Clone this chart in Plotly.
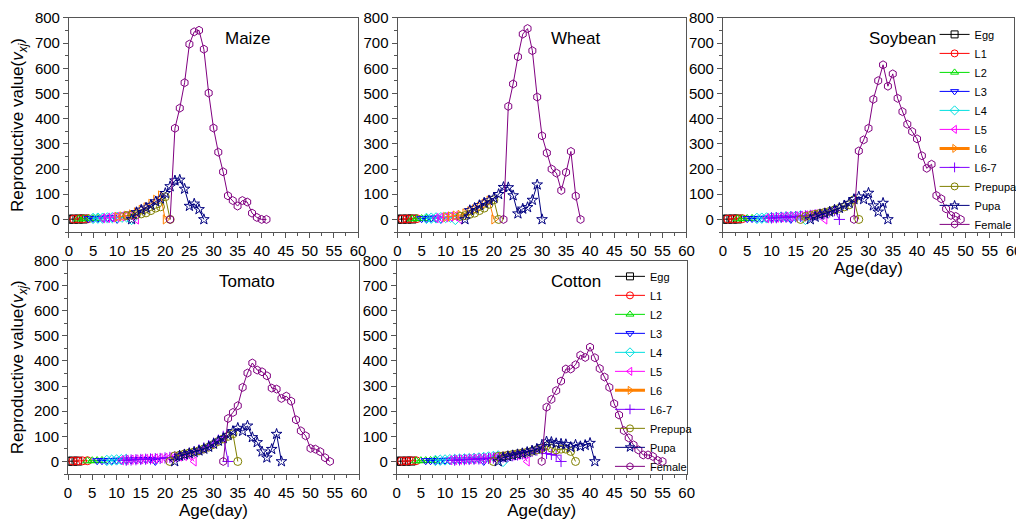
import plotly.graph_objects as go

# stage order / styling (Origin default colours)
stages = ["Egg", "L1", "L2", "L3", "L4", "L5", "L6", "L6-7", "Prepupa", "Pupa", "Female"]
colors = ["#000000", "#FF0000", "#00E000", "#0000FF", "#00E0E0", "#FF00FF",
          "#FF8000", "#8000FF", "#808000", "#000080", "#800080"]
symbols = ["square-open", "circle-open", "triangle-up-open", "triangle-down-open",
           "diamond-open", "triangle-left-open", "triangle-right-open", "cross-thin-open",
           "circle-open", "star-open", "hexagon-open"]

# first age (day) of each stage series, per crop (None = stage absent)
maize_start = [0, 1, 2, 4, 5, 7, 10, None, 12, 13, 21]
wheat_start = [0, 1, 3, 5, 6, 8, 10, None, 13, 14, 22]
soybean_start = [0, 1, 3, 5, 7, 9, None, 10, 16, 18, 27]
tomato_start = [0, 1, 4, 6, 8, 11, None, 12, 21, 22, 32]
cotton_start = [0, 1, 4, 6, 8, 11, None, 12, 20, 21, 30]

# reproductive values v_xj
maize_egg = [1, 1.2, 1.4, 1.6]
maize_l1 = [1.5, 2, 2.5, 3]
maize_l2 = [2, 2.5, 3, 3.5, 4]
maize_l3 = [3, 4, 4, 5, 6, 7, 0]
maize_l4 = [4, 5, 5, 6, 7, 8, 9, 10, 0]
maize_l5 = [5, 6, 8, 10, 12, 14, 16, 0]
maize_l6 = [10, 12, 15, 20, 28, 38, 48, 62, 78, 95, 0]
maize_l67 = []
maize_prepupa = [15, 17, 19, 22, 26, 35, 45, 50, 90, 0]
maize_pupa = [0, 28, 38, 46, 57, 71, 82, 104, 131, 154, 157, 121, 53, 62, 40, 0]
maize_female = [0, 362, 442, 543, 696, 745, 751, 676, 502, 363, 267, 189, 94, 75,
                53, 75, 69, 25, 8, 0, 0]

wheat_egg = [1, 1.2, 1.4, 1.6]
wheat_l1 = [1.5, 2, 2.5, 3]
wheat_l2 = [2.5, 3, 3.5, 4]
wheat_l3 = [3, 4, 5, 6, 0]
wheat_l4 = [4, 5, 6, 7, 8, 9, 0]
wheat_l5 = [5, 7, 9, 11, 13, 0]
wheat_l6 = [10, 12, 15, 18, 24, 32, 40, 50, 62, 75, 0]
wheat_l67 = []
wheat_prepupa = [12, 15, 20, 25, 35, 45, 60, 78, 0]
wheat_pupa = [0, 36, 45, 56, 66, 75, 85, 100, 128, 127, 95, 23, 42, 48, 77, 138, 0]
wheat_female = [0, 449, 538, 646, 736, 758, 670, 486, 332, 264, 200, 184, 115, 187,
                270, 93, 0]

soybean_egg = [1, 1.2, 1.4, 1.6]
soybean_l1 = [1.5, 2, 2.5, 3]
soybean_l2 = [2.5, 3, 3.5, 4]
soybean_l3 = [3, 3.5, 4, 4.5, 5, 5.5, 6, 6.5, 7, 0]
soybean_l4 = [4, 5, 6, 7, 8, 9, 10, 11, 12, 14, 0]
soybean_l5 = [5, 6, 7, 8, 10, 11, 12, 14, 16, 18, 20, 22, 0]
soybean_l6 = []
soybean_l67 = [6, 7, 8, 9, 10, 11, 12, 14, 16, 18, 21, 25, 30, 35, 0]
soybean_prepupa = [0, 12, 16, 20, 24, 28, 32, 38, 44, 50, 58, 78, 0]
soybean_pupa = [0, 10, 18, 23, 30, 38, 45, 55, 65, 80, 90, 80, 105, 55, 30, 65, 0]
soybean_female = [0, 272, 316, 362, 477, 551, 614, 529, 578, 481, 428, 378, 349, 320,
                  253, 203, 219, 95, 82, 42, 16, 12, 0]

tomato_egg = [1, 1.2, 1.4]
tomato_l1 = [1.5, 2, 2.5, 3]
tomato_l2 = [2.5, 3, 3.5, 4]
tomato_l3 = [3, 3, 4, 4, 5, 5, 6, 6, 7, 7, 8, 8, 0]
tomato_l4 = [4, 5, 6, 7, 8]
tomato_l5 = [5, 6, 7, 8, 9, 10, 11, 12, 13, 14, 16, 18, 20, 22, 25, 0]
tomato_l6 = []
tomato_l67 = [5, 6, 7, 8, 9, 10, 11, 12, 14, 16, 19, 23, 28, 33, 39, 46, 54, 63, 73,
              85, 100, 0]
tomato_prepupa = [0, 22, 25, 30, 34, 38, 43, 50, 57, 68, 80, 90, 100, 110, 0]
tomato_pupa = [0, 22, 27, 32, 37, 43, 50, 58, 70, 82, 92, 105, 120, 133, 121, 142, 96,
               76, 39, 15, 49, 109, 0]
tomato_female = [0, 171, 195, 222, 295, 352, 392, 364, 357, 341, 292, 288, 251, 260,
                 240, 166, 122, 102, 52, 49, 39, 15, 0]

cotton_egg = [1, 1.2, 1.4, 1.6]
cotton_l1 = [1.5, 2, 2.5, 3]
cotton_l2 = [2.5, 3, 3.5, 4, 4.5]
cotton_l3 = [3, 3, 4, 4, 5, 5, 6, 6, 7, 7, 8, 9, 0]
cotton_l4 = [4, 5, 6, 7, 8, 9, 10, 11, 12, 14, 16, 18, 20, 22, 0]
cotton_l5 = [5, 6, 7, 8, 9, 10, 11, 12, 14, 16, 18, 20, 22, 24, 27, 30, 0]
cotton_l6 = []
cotton_l67 = [5, 6, 7, 8, 9, 10, 11, 12, 14, 16, 18, 20, 23, 26, 30, 35, 40, 45, 50,
              32, 28, 25, 0]
cotton_prepupa = [0, 20, 22, 25, 28, 31, 34, 37, 41, 46, 52, 62, 53, 46, 49, 49, 40, 0]
cotton_pupa = [0, 15, 20, 24, 28, 32, 37, 43, 50, 60, 79, 77, 72, 70, 68, 57, 66, 60,
               65, 73, 0]
cotton_female = [0, 216, 247, 282, 320, 368, 368, 385, 423, 414, 455, 413, 370, 336,
                 295, 230, 185, 123, 94, 66, 46, 26, 26, 20, 4, 0]

crops = ["Maize", "Wheat", "Soybean", "Tomato", "Cotton"]
starts = [maize_start, wheat_start, soybean_start, tomato_start, cotton_start]
series = [
    [maize_egg, maize_l1, maize_l2, maize_l3, maize_l4, maize_l5, maize_l6, maize_l67,
     maize_prepupa, maize_pupa, maize_female],
    [wheat_egg, wheat_l1, wheat_l2, wheat_l3, wheat_l4, wheat_l5, wheat_l6, wheat_l67,
     wheat_prepupa, wheat_pupa, wheat_female],
    [soybean_egg, soybean_l1, soybean_l2, soybean_l3, soybean_l4, soybean_l5, soybean_l6,
     soybean_l67, soybean_prepupa, soybean_pupa, soybean_female],
    [tomato_egg, tomato_l1, tomato_l2, tomato_l3, tomato_l4, tomato_l5, tomato_l6,
     tomato_l67, tomato_prepupa, tomato_pupa, tomato_female],
    [cotton_egg, cotton_l1, cotton_l2, cotton_l3, cotton_l4, cotton_l5, cotton_l6,
     cotton_l67, cotton_prepupa, cotton_pupa, cotton_female],
]

font = "Arial, Liberation Sans, sans-serif"
fig = go.Figure()

for p, crop in enumerate(crops):
    ax = "" if p == 0 else str(p + 1)
    for j, stage in enumerate(stages):
        vals = series[p][j]
        if not vals:
            continue
        ages = list(range(starts[p][j], starts[p][j] + len(vals)))
        fig.add_trace(go.Scatter(
            x=ages, y=vals, mode="lines+markers", showlegend=False,
            line=dict(color=colors[j], width=1),
            marker=dict(symbol=symbols[j], size=8, color=colors[j],
                        line=dict(width=1, color=colors[j])),
            xaxis="x" + ax, yaxis="y" + ax, name=stage,
        ))

# legend-only entries (Soybean panel legend and Cotton panel legend)
for leg, ax in [("legend", "3"), ("legend2", "5")]:
    for j, stage in enumerate(stages):
        fig.add_trace(go.Scatter(
            x=[None], y=[None], mode="lines+markers", name=stage, legend=leg,
            line=dict(color=colors[j], width=3 if stage == "L6" else 1),
            marker=dict(symbol=symbols[j], size=7, color=colors[j],
                        line=dict(width=1, color=colors[j])),
            xaxis="x" + ax, yaxis="y" + ax,
        ))

# the page body adds an 8px margin, so the figure is 1016x517
x_domains = [[0.0600, 0.3445], [0.3834, 0.6678], [0.7037, 0.9902],
             [0.0591, 0.3455], [0.3826, 0.6680]]
y_domains = [[0.5667, 0.9807], [0.5667, 0.9807], [0.5667, 0.9807],
             [0.0986, 0.5116], [0.0986, 0.5116]]
ytitle = "Reproductive value(<i>v</i><sub><i>xj</i></sub>)"

layout = dict(
    template="none",
    width=1016, height=517, margin=dict(l=0, r=0, t=0, b=0, pad=0),
    paper_bgcolor="white", plot_bgcolor="white",
    font=dict(family=font, size=15, color="black"),
    showlegend=True,
)
axis_common = dict(showgrid=False, zeroline=False, showline=True, mirror=True,
                   automargin=False,
                   linecolor="#555555", linewidth=1, ticks="outside", ticklen=5,
                   tickcolor="#555555", tickfont=dict(size=15, family=font, color="black"))
for p, crop in enumerate(crops):
    ax = "" if p == 0 else str(p + 1)
    xa = dict(axis_common, domain=x_domains[p], anchor="y" + ax, range=[0, 60],
              dtick=5, tick0=0,
              minor=dict(ticks="outside", dtick=2.5, ticklen=3, tickcolor="#555555"))
    ya = dict(axis_common, domain=y_domains[p], anchor="x" + ax, range=[-50, 800],
              dtick=100, tick0=0,
              minor=dict(ticks="outside", dtick=50, ticklen=3, tickcolor="#555555"))
    if p in (2, 3, 4):
        xa["title"] = dict(text="Age(day)", font=dict(size=17, color="black"), standoff=4)
    if p in (0, 3):
        ya["title"] = dict(text=ytitle, font=dict(size=17, color="black"), standoff=6)
    layout["xaxis" + ax] = xa
    layout["yaxis" + ax] = ya

layout["legend"] = dict(x=0.912, y=0.977, xanchor="left", yanchor="top",
                        bgcolor="rgba(0,0,0,0)", font=dict(size=11, family=font),
                        itemwidth=30, tracegroupgap=0)
layout["legend2"] = dict(x=0.5925, y=0.509, xanchor="left", yanchor="top",
                         bgcolor="rgba(0,0,0,0)", font=dict(size=11, family=font),
                         itemwidth=30, tracegroupgap=0)
fig.update_layout(**layout)

for p, crop in enumerate(crops):
    ax = "" if p == 0 else str(p + 1)
    fig.add_annotation(text=crop, x=37, y=718, xref="x" + ax, yref="y" + ax,
                       showarrow=False, font=dict(size=17, family=font, color="black"))

fig.write_html("out.html")
